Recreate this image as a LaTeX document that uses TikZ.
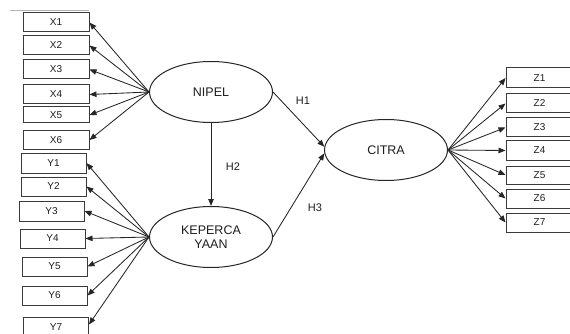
\documentclass[tikz,border=0pt]{standalone}
\usepackage{fontspec}
\setmainfont{Liberation Sans}
\usetikzlibrary{shapes.geometric,arrows.meta}
\definecolor{ln}{HTML}{262626}
\definecolor{bx}{HTML}{3A3A3A}
\definecolor{tx}{HTML}{1E1E1E}
\tikzset{
  ind/.style={draw=bx,line width=1pt,inner sep=0pt,font=\fontsize{10}{11}\selectfont,text=tx},
  lat/.style={ellipse,draw=ln,line width=1pt,inner sep=0pt,minimum width=123pt,minimum height=61pt,font=\fontsize{12.5}{13.5}\selectfont,text=tx,align=center},
  arr/.style={draw=ln,line width=0.85pt,-{Triangle[length=7pt,width=5.5pt]}},
  hl/.style={font=\fontsize{11}{12}\selectfont,text=tx}
}
\newcommand{\boxat}[6]{\node[ind,minimum width=(#4-#2)*1pt,minimum height=(#5-#3)*1pt] (#1) at ({(#2+#4)/2},{(#3+#5)/2}) {#6};}
\begin{document}
\begin{tikzpicture}[x=1pt,y=-1pt]
\useasboundingbox (0,0) rectangle (570,334);
\fill[white] (0,0) rectangle (570,334);
\begin{scope}
\clip (0,0) rectangle (570,334);
\draw[gray!60,line width=0.6pt] (10,10) -- (89,10);
% latent variables
\node[lat] (nipel) at (211,92) {NIPEL};
\node[lat] (kep) at (211,237) {KEPERCA\\YAAN};
\node[lat] (citra) at (386,150) {CITRA};
% X indicators
\boxat{x1}{23}{13}{89}{32}{X1}
\boxat{x2}{23}{36}{89}{55}{X2}
\boxat{x3}{23}{60}{89}{79}{X3}
\boxat{x4}{23}{85}{89}{104}{X4}
\boxat{x5}{23}{107}{89}{123}{X5}
\boxat{x6}{23}{131}{89}{149}{X6}
% Y indicators
\boxat{y1}{21}{153}{86}{173}{Y1}
\boxat{y2}{21}{177}{86}{196}{Y2}
\boxat{y3}{19}{201}{84}{221}{Y3}
\boxat{y4}{20}{229}{85}{248}{Y4}
\boxat{y5}{22}{257}{87}{276}{Y5}
\boxat{y6}{22}{286}{87}{305}{Y6}
\node[ind,minimum width=65pt,minimum height=20pt,anchor=north west] (y7) at (23,317) {Y7};
% Z indicators
\boxat{z1}{506}{68}{573}{88}{Z1}
\boxat{z2}{506}{94}{573}{113}{Z2}
\boxat{z3}{506}{118}{573}{137}{Z3}
\boxat{z4}{506}{141}{573}{160}{Z4}
\boxat{z5}{506}{166}{573}{184}{Z5}
\boxat{z6}{506}{189}{573}{208}{Z6}
\boxat{z7}{506}{213}{573}{232}{Z7}
% loadings
\foreach \b in {x1,x2,x3,x4,x5,x6} \draw[arr] (nipel.west) -- (\b.east);
\foreach \b in {y1,y2,y3,y4,y5,y6} \draw[arr] (kep.west) -- (\b.east);
\draw[arr] (kep.west) -- ([yshift=3pt]y7.east);
\foreach \b in {z1,z2,z3,z4,z5,z6,z7} \draw[arr] (citra.east) -- (\b.west);
% structural paths
\draw[arr] (nipel.south) -- (kep.north);
\draw[arr] (nipel.east) -- (citra.177);
\draw[arr] (kep.east) -- (citra.183);
\node[hl] (h1) at (303,101) {H1};
\node[hl] (h2) at (233,167) {H2};
\node[hl] (h3) at (315,208) {H3};
\end{scope}
\end{tikzpicture}
\end{document}
